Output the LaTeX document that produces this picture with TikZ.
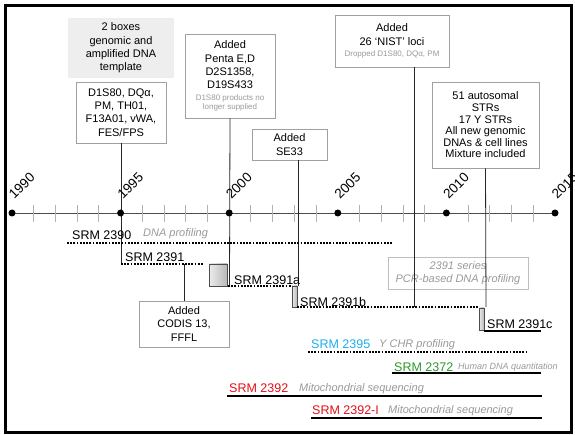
\documentclass[tikz,border=0pt]{standalone}
\usepackage{fontspec}
\setmainfont{Liberation Sans}
\usetikzlibrary{calc}
\definecolor{srmblue}{HTML}{1EAEEF}
\definecolor{srmgreen}{HTML}{2A9A2A}
\definecolor{srmred}{HTML}{E3101A}
\definecolor{notegray}{HTML}{9A9A9A}
\definecolor{boxgray}{HTML}{EEEEEE}
\definecolor{bordergray}{HTML}{A0A0A0}
\begin{document}
\begin{tikzpicture}[x=1pt,y=-1pt,
  box/.style={draw=bordergray, line width=0.8pt, fill=white, align=center, inner sep=0pt, font=\fontsize{11}{13.3}\selectfont},
  conn/.style={draw=black!85, line width=0.8pt},
  dotline/.style={line width=1.7pt, dash pattern=on 1.7pt off 1.5pt},
  solidline/.style={line width=1.8pt},
  lbl/.style={anchor=west, inner sep=0pt, font=\fontsize{12.5}{14}\selectfont},
  note/.style={anchor=west, inner sep=0pt, text=notegray, font=\fontsize{11}{13}\selectfont\itshape},
  yearlbl/.style={rotate=45, anchor=south west, inner sep=0pt, font=\fontsize{13.5}{15}\selectfont},
  marker/.style={draw=black!70, line width=0.7pt, left color=gray!15, right color=gray!55, inner sep=0pt},
  yeardot/.style={circle, fill=black, inner sep=0pt, minimum size=7pt},
  small/.style={font=\fontsize{8}{9}\selectfont}
]
\useasboundingbox (0,0) rectangle (575,435);
\fill[white] (0,0) rectangle (575,435);

% axis
\foreach \i/\yr in {0/1990,1/1995,2/2000,3/2005,4/2010,5/2015}
  \coordinate (yr\i) at (12+108.6*\i,213);
\draw[black!70, line width=0.9pt] (yr0) -- (yr5);
\foreach \k in {1,2,3,4,6,7,8,9,11,12,13,14,16,17,18,19,21,22,23,24}
  \draw[gray!60, line width=0.9pt] (12+21.72*\k,205) -- (12+21.72*\k,222);

% boxes
\node[fill=boxgray, align=center, inner sep=0pt, minimum width=106pt, minimum height=60pt, font=\fontsize{11}{13.3}\selectfont] (b1) at (121,48) {2 boxes\\genomic and\\amplified DNA\\template};
\node[box, minimum width=90pt, minimum height=61pt] (b2) at (121,112.5) {D1S80, DQα,\\PM, TH01,\\F13A01, vWA,\\FES/FPS};
\node[box, minimum width=90pt, minimum height=84pt] (b3) at (230,76) {Added\\Penta E,D\\D2S1358,\\D19S433\\[-2pt]{\fontsize{8}{9}\selectfont\color{notegray}D1S80 products no}\\[-4pt]{\fontsize{8}{9}\selectfont\color{notegray}longer supplied}};
\node[box, minimum width=75pt, minimum height=31pt] (b4) at (289.5,144.5) {Added\\SE33};
\node[box, minimum width=114pt, minimum height=52pt] (b5) at (392,41) {Added\\26 ‘NIST’ loci\\[-2pt]{\fontsize{8}{9}\selectfont\color{notegray}Dropped D1S80, DQα, PM}};
\node[box, minimum width=107pt, minimum height=86pt, font=\fontsize{11}{11.6}\selectfont] (b6) at (485.5,125) {51 autosomal\\STRs\\17 Y STRs\\All new genomic\\DNAs \& cell lines\\Mixture included};
\node[box, minimum width=90pt, minimum height=46pt] (b7) at (184,324) {Added\\CODIS 13,\\FFFL};
\node[box, draw=gray!50, minimum width=140pt, minimum height=32pt, text=notegray, font=\fontsize{11}{13}\selectfont\itshape] (b8) at (458,273) {2391 series\\PCR-based DNA profiling};

% markers
\node[marker, minimum width=18pt, minimum height=22pt] (ma) at (218,275) {};
\node[marker, minimum width=5pt, minimum height=21pt] (mb) at (294.5,296.5) {};
\node[marker, minimum width=5pt, minimum height=22pt] (mc) at (481.5,319) {};

% coordinates
\coordinate (c1) at (121,264);
\coordinate (c1e) at (203,264);
\coordinate (c2) at (229.5,286);
\coordinate (c3t) at (298,160);
\coordinate (c3) at (298,286);
\coordinate (c4t) at (414,67);
\coordinate (c4) at (414,307);
\coordinate (c5) at (486,307);
\coordinate (c7) at (184,264);
\coordinate (d0s) at (67,243);   \coordinate (d0e) at (393,243);
\coordinate (das) at (228,286);  \coordinate (dae) at (292,286);
\coordinate (dbs) at (297,307);  \coordinate (dbe) at (479,307);
\coordinate (dys) at (308,352);  \coordinate (dye) at (527,352);
\coordinate (scs) at (484,331);  \coordinate (sce) at (541,331);
\coordinate (s72s) at (392,373); \coordinate (s72e) at (541,373);
\coordinate (s92s) at (227,396); \coordinate (s92e) at (542,396);
\coordinate (s9Is) at (311,418); \coordinate (s9Ie) at (542,418);

% connectors
\draw[conn] (b2.south) -- (c1);
\draw[conn] (b3.south) -- (c2);
\draw[conn] (c3t) -- (c3);
\draw[conn] (c4t) -- (c4);
\draw[conn] (b6.south) -- (c5);
\draw[conn] (b7.north) -- (c7);

% product lines
\draw[dotline] (d0s) -- (d0e);
\draw[dotline] (c1) -- (c1e);
\draw[dotline] (das) -- (dae);
\draw[dotline] (dbs) -- (dbe);
\draw[dotline] (dys) -- (dye);
\draw[solidline] (scs) -- (sce);
\draw[solidline] (s72s) -- (s72e);
\draw[solidline] (s92s) -- (s92e);
\draw[solidline] (s9Is) -- (s9Ie);

% labels
\node[lbl] (l2390) at (72,235) {SRM 2390};
\node[note] (n2390) at (143,234) {DNA profiling};
\node[lbl] (l2391) at (125,257) {SRM 2391};
\node[lbl] (l2391a) at (234,280) {SRM 2391a};
\node[lbl] (l2391b) at (300,302) {SRM 2391b};
\node[lbl] (l2391c) at (487,324) {SRM 2391c};
\node[lbl, text=srmblue] (l2395) at (311,344) {SRM 2395};
\node[note] (n2395) at (379,345) {Y CHR profiling};
\node[lbl, text=srmgreen] (l2372) at (394,367) {SRM 2372};
\node[note, font=\fontsize{9}{10}\selectfont\itshape] (n2372) at (458,367) {Human DNA quantitation};
\node[lbl, text=srmred] (l2392) at (229,388) {SRM 2392};
\node[note] (n2392) at (299,389) {Mitochondrial sequencing};
\node[lbl, text=srmred] (l2392I) at (312,410) {SRM 2392-I};
\node[note] (n2392I) at (388,411) {Mitochondrial sequencing};

% year dots and labels
\foreach \i/\yr in {0/1990,1/1995,2/2000,3/2005,4/2010,5/2015}{
  \node[yeardot] (dot\yr) at (yr\i) {};
  \node[yearlbl] (ylab\yr) at ($(yr\i)+(2.5,-13)$) {\yr};
}

% frame
\draw[line width=3pt] (5,6) rectangle (571,432);
\end{tikzpicture}
\end{document}
